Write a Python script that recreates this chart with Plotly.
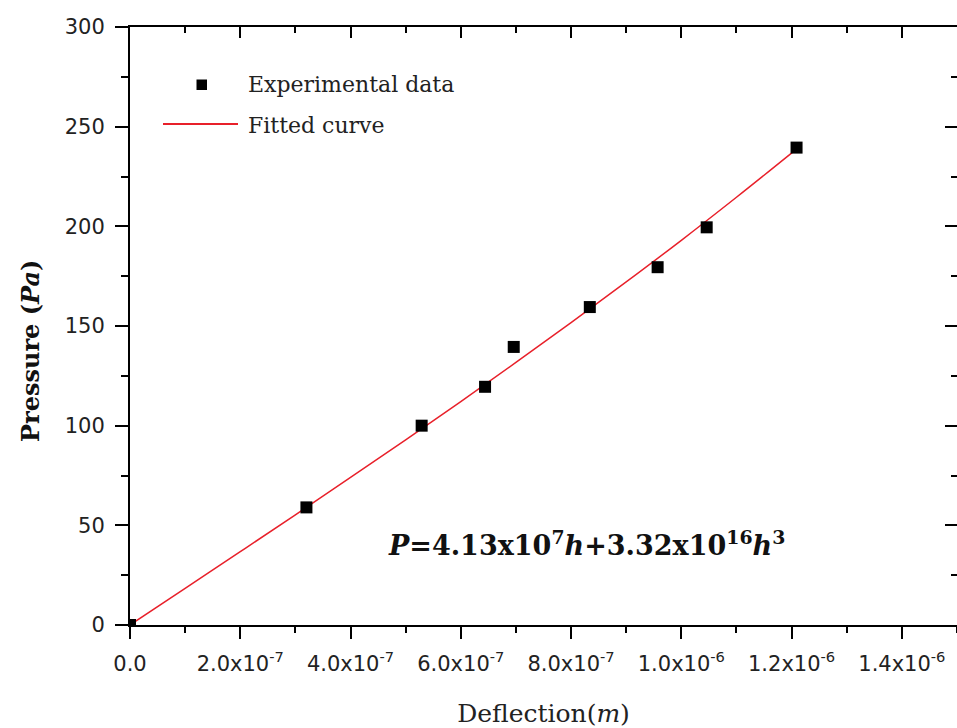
import plotly.graph_objects as go

# Experimental data (deflection in m, pressure in Pa)
exp_deflection = [0.0, 3.2e-7, 5.29e-7, 6.44e-7, 6.96e-7, 8.34e-7, 9.57e-7, 1.046e-6, 1.209e-6]
exp_pressure = [0, 59, 100, 119.5, 139.5, 159.5, 179.5, 199.5, 239.5]

# Fitted curve
fit_deflection = [0.0, 1e-7, 2e-7, 3e-7, 4e-7, 5e-7, 6e-7, 7e-7, 8e-7, 9e-7, 1.0e-6, 1.1e-6, 1.21e-6]
fit_pressure = [0, 18.4, 36.8, 55.3, 74.0, 92.9, 112.1, 131.7, 151.7, 172.1, 193.0, 214.6, 239.0]

x_tickvals = [0, 2e-7, 4e-7, 6e-7, 8e-7, 1.0e-6, 1.2e-6, 1.4e-6]
x_ticktext = ["0.0", "2.0x10<sup>-7</sup>", "4.0x10<sup>-7</sup>", "6.0x10<sup>-7</sup>",
              "8.0x10<sup>-7</sup>", "1.0x10<sup>-6</sup>", "1.2x10<sup>-6</sup>", "1.4x10<sup>-6</sup>"]
y_tickvals = [0, 50, 100, 150, 200, 250, 300]
y_ticktext = ["0", "50", "100", "150", "200", "250", "300"]

legend_labels = ["Experimental data", "Fitted curve"]
equation_text = "<i>P</i>=4.13x10<sup>7</sup><i>h</i>+3.32x10<sup>16</sup><i>h</i><sup>3</sup>"

X_RANGE = [0, 1.5e-6]
Y_RANGE = [0, 300]

W, H = 957, 728
ML, MT, MR, MB = 130, 27, 0, 103
PW, PH = W - ML - MR, H - MT - MB

def px(xp):
    return (xp - ML) / PW

def py(yp):
    return (H - MB - yp) / PH

red = "#e8202a"

fig = go.Figure()
fig.add_trace(go.Scatter(x=fit_deflection, y=fit_pressure, mode="lines",
                         line=dict(color=red, width=1.5, shape="spline"),
                         name=legend_labels[1], showlegend=False, hoverinfo="skip"))
fig.add_trace(go.Scatter(x=exp_deflection, y=exp_pressure, mode="markers",
                         marker=dict(symbol="square", size=12, color="black", line=dict(width=0)),
                         name=legend_labels[0], showlegend=False))

tickfont = dict(family="DejaVu Sans", size=21, color="#222")

fig.update_layout(
    width=W, height=H,
    margin=dict(l=ML, r=MR, t=MT, b=MB),
    paper_bgcolor="white", plot_bgcolor="white",
    showlegend=False,
    xaxis=dict(range=X_RANGE, tickvals=x_tickvals, ticktext=x_ticktext,
               ticks="outside", ticklen=12, tickwidth=2, tickcolor="black",
               showline=True, linewidth=2, linecolor="black",
               showgrid=False, zeroline=False, tickfont=tickfont,
               ticklabelstandoff=7,
               minor=dict(ticks="outside", ticklen=6, tickwidth=2, tickcolor="black", dtick=1e-7, tick0=0),
               title=dict(text="Deflection(<i>m</i>)", font=dict(family="DejaVu Serif", size=25, color="#222"),
                          standoff=30)),
    yaxis=dict(range=Y_RANGE, tickvals=y_tickvals, ticktext=y_ticktext,
               ticks="outside", ticklen=13, tickwidth=2, tickcolor="black",
               showline=True, linewidth=2, linecolor="black",
               showgrid=False, zeroline=False, tickfont=tickfont,
               ticklabelstandoff=6,
               minor=dict(ticks="outside", ticklen=7, tickwidth=2, tickcolor="black", dtick=25, tick0=0)),
    xaxis2=dict(range=X_RANGE, overlaying="x", side="top", tick0=0, dtick=2e-7,
                ticks="inside", ticklen=11, tickwidth=2, tickcolor="black",
                showline=True, linewidth=2, linecolor="black", showticklabels=False,
                showgrid=False, zeroline=False,
                minor=dict(ticks="inside", ticklen=6, tickwidth=2, tickcolor="black", dtick=1e-7, tick0=0)),
    yaxis2=dict(range=Y_RANGE, overlaying="y", side="right", tick0=0, dtick=50,
                ticks="inside", ticklen=12, tickwidth=2, tickcolor="black",
                showline=False, showticklabels=False,
                showgrid=False, zeroline=False,
                minor=dict(ticks="inside", ticklen=6, tickwidth=2, tickcolor="black", dtick=25, tick0=0)),
)

# invisible trace so overlay axes are drawn
fig.add_trace(go.Scatter(x=[None], y=[None], xaxis="x2", yaxis="y2", showlegend=False, hoverinfo="skip"))

# Y axis title
fig.add_annotation(text="Pressure (<i>Pa</i>)", xref="paper", yref="paper",
                   x=px(30), y=py(351), textangle=-90, showarrow=False,
                   xanchor="center", yanchor="middle",
                   font=dict(family="DejaVu Serif", size=24, color="#111", weight="bold"))

# Equation
fig.add_annotation(text="<b>" + equation_text + "</b>", xref="paper", yref="paper",
                   x=px(586), y=py(543), showarrow=False, xanchor="center", yanchor="middle",
                   font=dict(family="DejaVu Serif", size=27, color="#111"))

# Manual legend
fig.add_shape(type="rect", xref="paper", yref="paper",
              x0=px(196.5), x1=px(207), y0=py(90), y1=py(79.5),
              fillcolor="black", line=dict(width=0))
fig.add_shape(type="line", xref="paper", yref="paper",
              x0=px(163), x1=px(238), y0=py(124), y1=py(124),
              line=dict(color=red, width=2))
fig.add_annotation(text=legend_labels[0], xref="paper", yref="paper", x=px(246), y=py(84),
                   showarrow=False, xanchor="left", yanchor="middle",
                   font=dict(family="DejaVu Serif", size=22, color="#222"))
fig.add_annotation(text=legend_labels[1], xref="paper", yref="paper", x=px(246), y=py(125),
                   showarrow=False, xanchor="left", yanchor="middle",
                   font=dict(family="DejaVu Serif", size=22, color="#222"))

fig.write_html("out.html")
